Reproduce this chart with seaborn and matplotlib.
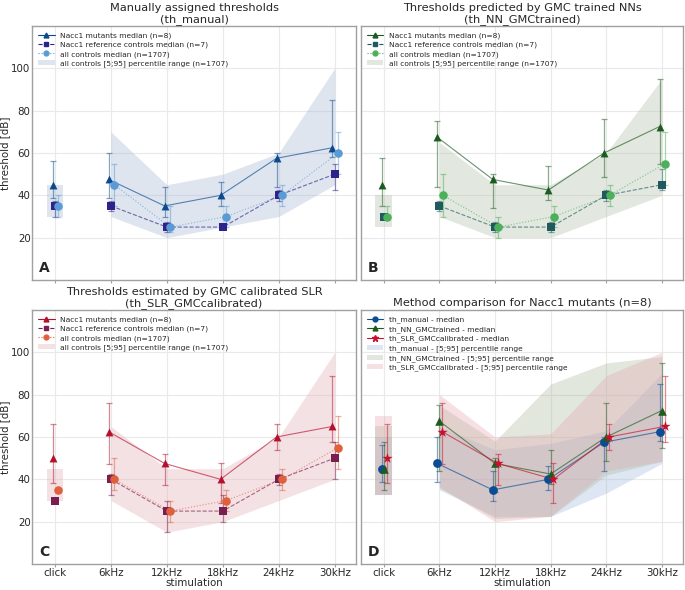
import numpy as np
import pandas as pd
import matplotlib.pyplot as plt
from matplotlib.lines import Line2D
from matplotlib.patches import Patch
import seaborn as sns

# --- data ---
stimuli = ['click', '6kHz', '12kHz', '18kHz', '24kHz', '30kHz']

# th_manual
man_mut_med = [45, 47.5, 35, 40, 57.5, 62.5]
man_mut_lo = [38.75, 38.75, 30, 35, 43.75, 58]
man_mut_hi = [56, 60, 43.75, 46.25, 60, 85]
man_ref_med = [35, 35, 25, 25, 40, 50]
man_ref_lo = [30, 32.5, 22.5, 25, 37.5, 42.5]
man_ref_hi = [37.5, 37.5, 27.5, 25, 42.5, 55]
man_all_med = [35, 45, 25, 30, 40, 60]
man_all_lo = [30, 35, 22.5, 25, 35, 50]
man_all_hi = [40, 55, 35, 35, 45, 70]
man_band_lo = [30, 30, 20, 25, 30, 45]
man_band_hi = [45, 70, 45, 50, 60, 100]

# th_NN_GMCtrained
nn_mut_med = [45, 67.5, 47.5, 42.5, 60, 72.5]
nn_mut_lo = [35, 43.75, 34, 38, 48.75, 55]
nn_mut_hi = [57.5, 75, 50, 53.75, 76.25, 95]
nn_ref_med = [30, 35, 25, 25, 40, 45]
nn_ref_lo = [30, 32.5, 22.5, 22.5, 37.5, 42.5]
nn_ref_hi = [30, 37.5, 27.5, 27.5, 42.5, 52.5]
nn_all_med = [30, 40, 25, 30, 40, 55]
nn_all_lo = [30, 30, 20, 25, 35, 45]
nn_all_hi = [35, 50, 30, 35, 45, 70]
nn_band_lo = [25, 30, 20, 20, 30, 40]
nn_band_hi = [40, 65, 45, 45, 60, 95]

# th_SLR_GMCcalibrated
slr_mut_med = [50, 62.5, 47.5, 40, 60, 65]
slr_mut_lo = [38.25, 47.25, 37.5, 28.75, 53.75, 57.5]
slr_mut_hi = [66.25, 76.25, 52, 47.5, 66.25, 88.75]
slr_ref_med = [30, 40, 25, 25, 40, 50]
slr_ref_lo = [30, 32.5, 15, 20, 37.5, 40]
slr_ref_hi = [30, 42.5, 30, 32.5, 42.5, 57.5]
slr_all_med = [35, 40, 25, 30, 40, 55]
slr_all_lo = [35, 35, 20, 25, 35, 45]
slr_all_hi = [35, 50, 30, 35, 45, 70]
slr_band_lo = [30, 30, 15, 20, 30, 40]
slr_band_hi = [45, 65, 45, 45, 60, 100]

# method comparison: [5;95] percentile ranges of the mutants
cmp_man_lo = [32.5, 35, 22.5, 22.5, 33.5, 47.5]
cmp_man_hi = [60, 65, 54, 57, 63, 90]
cmp_nn_lo = [32.5, 36, 21.5, 22.5, 42, 48.5]
cmp_nn_hi = [65, 75, 58, 85, 95, 98]
cmp_slr_lo = [32.5, 36.5, 20, 22.5, 44, 48.5]
cmp_slr_hi = [70, 80, 60, 61.5, 89, 100]

sns.set_style("whitegrid", {"axes.edgecolor": "#a0a0a0", "grid.color": "#e9e9e9",
                            "xtick.bottom": True, "ytick.left": False})
plt.rcParams['font.family'] = ['DejaVu Sans']
plt.rcParams['axes.linewidth'] = 1.0

W, H = 685, 590
fig = plt.figure(figsize=(W / 100, H / 100), dpi=100)


def box(l, t, r, b):
    return [l / W, 1 - b / H, (r - l) / W, (b - t) / H]


ax_a = fig.add_axes(box(32, 26, 356, 280))
ax_b = fig.add_axes(box(361, 26, 683, 280))
ax_c = fig.add_axes(box(32, 310, 356, 564))
ax_d = fig.add_axes(box(361, 310, 683, 564))

pos = np.arange(len(stimuli))


def draw_series(ax, med, lo, hi, off, color, marker, size, ls, lw=0.8):
    med = np.array(med, dtype=float)
    x = pos + off
    df = pd.DataFrame({'x': x[1:], 'y': med[1:]})
    sns.lineplot(data=df, x='x', y='y', ax=ax, color=color, alpha=0.65,
                 linestyle=ls, linewidth=lw, zorder=3)
    ax.errorbar(x, med, yerr=[med - np.array(lo), np.array(hi) - med], fmt='none',
                ecolor=color, alpha=0.5, elinewidth=0.9, capsize=2.3, capthick=0.9, zorder=3)
    sns.scatterplot(x=x, y=med, ax=ax, color=color, marker=marker, s=size,
                    linewidth=0, zorder=4)


def draw_band(ax, lo, hi, color, alpha):
    ax.fill_between([-0.15, 0.15], [lo[0]] * 2, [hi[0]] * 2, color=color, alpha=alpha,
                    linewidth=0, zorder=1)
    ax.fill_between(pos[1:], lo[1:], hi[1:], color=color, alpha=alpha, linewidth=0, zorder=1)


def style(ax, title, letter, show_y, show_x):
    ax.set_xlim(-0.41, 5.38)
    ax.set_ylim(0, 120)
    ax.set_xticks(pos)
    ax.set_yticks([20, 40, 60, 80, 100])
    ax.tick_params(axis='x', length=2, color='#a0a0a0', labelsize=7.4, pad=1)
    ax.tick_params(axis='y', length=0, labelsize=7.4, pad=1)
    if show_x:
        ax.set_xticklabels(stimuli)
        ax.set_xlabel('stimulation', fontsize=7.4, labelpad=0)
    else:
        ax.set_xticklabels([])
        ax.set_xlabel('')
    if show_y:
        ax.set_ylabel('threshold [dB]', fontsize=7.4, labelpad=1)
    else:
        ax.set_yticklabels([])
        ax.set_ylabel('')
    ax.set_title(title, fontsize=8.2, pad=3, linespacing=1.1)
    ax.text(0.022, 0.03, letter, transform=ax.transAxes, fontsize=10, fontweight='bold')


panels = [
    (ax_a, 'Manually assigned thresholds\n(th_manual)', 'A',
     (man_mut_med, man_mut_lo, man_mut_hi), (man_ref_med, man_ref_lo, man_ref_hi),
     (man_all_med, man_all_lo, man_all_hi), (man_band_lo, man_band_hi),
     ['#0b4a8f', '#2e2389', '#5b9bd5', '#aabbd6']),
    (ax_b, 'Thresholds predicted by GMC trained NNs\n(th_NN_GMCtrained)', 'B',
     (nn_mut_med, nn_mut_lo, nn_mut_hi), (nn_ref_med, nn_ref_lo, nn_ref_hi),
     (nn_all_med, nn_all_lo, nn_all_hi), (nn_band_lo, nn_band_hi),
     ['#1c5a1f', '#1f5a5e', '#4cb05a', '#b4c2ad']),
    (ax_c, 'Thresholds estimated by GMC calibrated SLR\n(th_SLR_GMCcalibrated)', 'C',
     (slr_mut_med, slr_mut_lo, slr_mut_hi), (slr_ref_med, slr_ref_lo, slr_ref_hi),
     (slr_all_med, slr_all_lo, slr_all_hi), (slr_band_lo, slr_band_hi),
     ['#b5112e', '#7a1e50', '#e0603c', '#e3b2b9']),
]

for ax, title, letter, mut, ref, allc, band, cols in panels:
    draw_band(ax, band[0], band[1], cols[3], 0.38)
    draw_series(ax, *mut, -0.04, cols[0], '^', 32, '-')
    draw_series(ax, *ref, 0.0, cols[1], 's', 34, '--')
    draw_series(ax, *allc, 0.06, cols[2], 'o', 38, ':')
    handles = [
        Line2D([], [], color=cols[0], ls='-', lw=0.8, marker='^', ms=3.5),
        Line2D([], [], color=cols[1], ls='--', lw=0.8, marker='s', ms=3.5),
        Line2D([], [], color=cols[2], ls=':', lw=0.8, marker='o', ms=3.5),
        Patch(facecolor=cols[3], alpha=0.38, edgecolor='none'),
    ]
    labels = ['Nacc1 mutants median (n=8)', 'Nacc1 reference controls median (n=7)',
              'all controls median (n=1707)', 'all controls [5;95] percentile range (n=1707)']
    ax.legend(handles, labels, loc='upper left', fontsize=5.4, frameon=False,
              labelspacing=0.35, handlelength=2.2, borderaxespad=0.4)
    style(ax, title, letter, show_y=(letter in 'AC'), show_x=(letter == 'C'))

# panel D
d_cols = ['#0b4c96', '#1e5c1e', '#c8102e']
d_band = ['#9fb8da', '#a9bba0', '#e6a7b0']
draw_band(ax_d, cmp_man_lo, cmp_man_hi, d_band[0], 0.35)
draw_band(ax_d, cmp_nn_lo, cmp_nn_hi, d_band[1], 0.35)
draw_band(ax_d, cmp_slr_lo, cmp_slr_hi, d_band[2], 0.35)
draw_series(ax_d, man_mut_med, man_mut_lo, man_mut_hi, -0.04, d_cols[0], 'o', 40, '-')
draw_series(ax_d, nn_mut_med, nn_mut_lo, nn_mut_hi, 0.0, d_cols[1], '^', 38, '-')
draw_series(ax_d, slr_mut_med, slr_mut_lo, slr_mut_hi, 0.05, d_cols[2], '*', 60, '-')
d_handles = [
    Line2D([], [], color=d_cols[0], lw=0.8, marker='o', ms=3.5),
    Line2D([], [], color=d_cols[1], lw=0.8, marker='^', ms=3.5),
    Line2D([], [], color=d_cols[2], lw=0.8, marker='*', ms=4.5),
    Patch(facecolor=d_band[0], alpha=0.35, edgecolor='none'),
    Patch(facecolor=d_band[1], alpha=0.35, edgecolor='none'),
    Patch(facecolor=d_band[2], alpha=0.35, edgecolor='none'),
]
d_labels = ['th_manual - median', 'th_NN_GMCtrained - median', 'th_SLR_GMCcalibrated - median',
            'th_manual - [5;95] percentile range', 'th_NN_GMCtrained - [5;95] percentile range',
            'th_SLR_GMCcalibrated - [5;95] percentile range']
ax_d.legend(d_handles, d_labels, loc='upper left', fontsize=5.4, frameon=False,
            labelspacing=0.35, handlelength=2.2, borderaxespad=0.4)
style(ax_d, 'Method comparison for Nacc1 mutants (n=8)', 'D', show_y=False, show_x=True)

fig.savefig('out.png', dpi=100)
